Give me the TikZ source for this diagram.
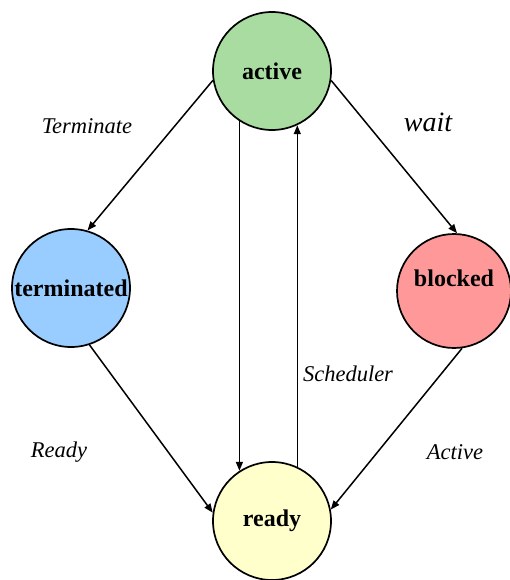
\documentclass[tikz,border=0pt]{standalone}
\usepackage{fontspec}
\setmainfont{Liberation Serif}
\usetikzlibrary{arrows.meta}
\definecolor{activegreen}{HTML}{A9DCA0}
\definecolor{termblue}{HTML}{99CCFF}
\definecolor{blockedred}{HTML}{FF9999}
\definecolor{readyyellow}{HTML}{FFFFCC}
\tikzset{
  state/.style={circle,draw=black,line width=1.7pt,minimum size=118pt,
    inner sep=0pt,font=\fontsize{24}{28}\selectfont\bfseries},
  trans/.style={draw=black,line width=1.5pt,-{Triangle[length=9pt,width=7pt]}},
  trans label/.style={font=\fontsize{22.5}{26}\selectfont\itshape}
}

\begin{document}
\begin{tikzpicture}[x=1pt,y=-1pt]
  \useasboundingbox (0,0) rectangle (509,580);
  % states
  \node[state,fill=activegreen] (active) at (272,71) {active};
  \node[state,fill=termblue] (terminated) at (71,288) {terminated};
  \node[state,fill=blockedred,minimum size=114pt,
    label={[font=\fontsize{24}{28}\selectfont\bfseries,yshift=13pt]center:blocked}]
    (blocked) at (454,291) {};
  \node[state,fill=readyyellow] (ready) at (272,521) {ready};
  % transitions
  \draw[trans] (active.189) -- (terminated.74);
  \draw[trans] (active.351) -- (blocked.87);
  \draw[trans] (active.237) -- (ready.123);
  \draw[trans] (ready.65) -- (active.295);
  \draw[trans] (terminated.288) -- (ready.172);
  \draw[trans] (blocked.278) -- (ready.11);
  % labels
  \node[trans label] (lterm) at (87,126) {Terminate};
  \node[trans label,font=\fontsize{28}{32}\selectfont\itshape] (lwait) at (428,122) {wait};
  \node[trans label] (lsched) at (348,374) {Scheduler};
  \node[trans label] (lready) at (59,452) {Ready};
  \node[trans label] (lactive) at (455,452) {Active};
\end{tikzpicture}
\end{document}
